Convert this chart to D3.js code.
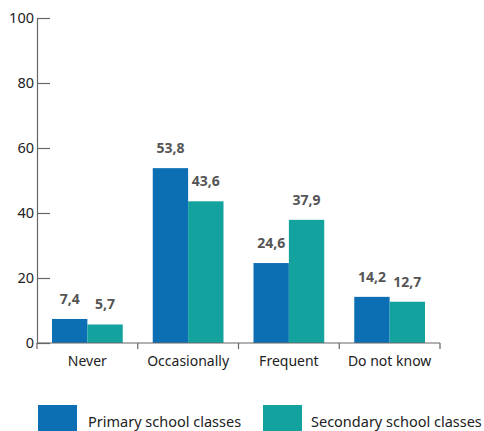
<!DOCTYPE html>
<html>
<head>
<meta charset="utf-8">
<script src="https://cdn.jsdelivr.net/npm/d3@7"></script>
<style>
  body { margin: 0; background: #fff; }
  text { font-family: "Noto Sans", "Open Sans", sans-serif; }
</style>
</head>
<body>
<div id="chart"></div>
<script>
const categories = ['Never', 'Occasionally', 'Frequent', 'Do not know'];
const primary = [7.4, 53.8, 24.6, 14.2];
const secondary = [5.7, 43.6, 37.9, 12.7];
const seriesNames = ['Primary school classes', 'Secondary school classes'];
const yTicks = [0, 20, 40, 60, 80, 100];

const width = 484;
const height = 431;
const colors = ['#0c6fb4', '#13a29d'];

const svg = d3.select('#chart').append('svg')
  .attr('width', width)
  .attr('height', height);

const x = d3.scaleBand()
  .domain(categories)
  .range([37, 440])
  .paddingInner(0)
  .paddingOuter(0);

const inner = d3.scaleBand()
  .domain([0, 1])
  .range([15, x.bandwidth() - 15]);

const y = d3.scaleLinear()
  .domain([0, 100])
  .range([343, 18]);

// y axis, ticks pointing inwards
const yAxis = d3.axisLeft(y).tickValues(yTicks).tickSize(-13).tickPadding(3);
const gy = svg.append('g')
  .attr('transform', 'translate(37,0)')
  .call(yAxis);
gy.select('.domain').attr('stroke', '#666').attr('stroke-width', 1.2);
gy.selectAll('.tick line').attr('stroke', '#666').attr('stroke-width', 1.2);
gy.selectAll('.tick text')
  .attr('fill', '#222')
  .style('font-size', '14.5px');

const data = categories.map((c, i) => ({cat: c, vals: [primary[i], secondary[i]]}));

const groups = svg.selectAll('.grp')
  .data(data)
  .enter()
  .append('g')
  .attr('class', 'grp')
  .attr('transform', d => `translate(${x(d.cat)},0)`);

groups.selectAll('rect')
  .data(d => d.vals)
  .enter()
  .append('rect')
  .attr('x', (d, i) => inner(i))
  .attr('y', d => y(d))
  .attr('width', inner.bandwidth())
  .attr('height', d => y(0) - y(d))
  .attr('fill', (d, i) => colors[i]);

groups.selectAll('.val')
  .data(d => d.vals)
  .enter()
  .append('text')
  .attr('class', 'val')
  .attr('x', (d, i) => inner(i) + inner.bandwidth() / 2)
  .attr('y', d => y(d) - 15)
  .attr('text-anchor', 'middle')
  .attr('fill', '#555')
  .style('font-size', '14px')
  .style('font-weight', 'bold')
  .text(d => String(d).replace('.', ','));

// x axis with ticks at band edges
const gx = svg.append('g').attr('transform', `translate(0,${y(0)})`);
gx.append('line')
  .attr('x1', x.range()[0]).attr('x2', x.range()[1])
  .attr('stroke', '#666').attr('stroke-width', 1.2);
const edges = categories.map(c => x(c)).concat([x.range()[1]]);
gx.selectAll('.edge')
  .data(edges)
  .enter()
  .append('line')
  .attr('x1', d => d).attr('x2', d => d)
  .attr('y1', 0).attr('y2', 6)
  .attr('stroke', '#666').attr('stroke-width', 1.2);
gx.selectAll('.lbl')
  .data(categories)
  .enter()
  .append('text')
  .attr('x', d => x(d) + x.bandwidth() / 2)
  .attr('y', 23)
  .attr('text-anchor', 'middle')
  .attr('fill', '#222')
  .style('font-size', '14px')
  .text(d => d);

// legend
const legendX = [38, 263];
const legend = svg.selectAll('.leg')
  .data(seriesNames)
  .enter()
  .append('g')
  .attr('transform', (d, i) => `translate(${legendX[i]},405)`);
legend.append('rect')
  .attr('width', 39)
  .attr('height', 30)
  .attr('fill', (d, i) => colors[i]);
legend.append('text')
  .attr('x', (d, i) => i === 0 ? 50 : 48)
  .attr('y', 22)
  .attr('fill', '#222')
  .style('font-size', '14.5px')
  .text(d => d);
</script>
</body>
</html>
